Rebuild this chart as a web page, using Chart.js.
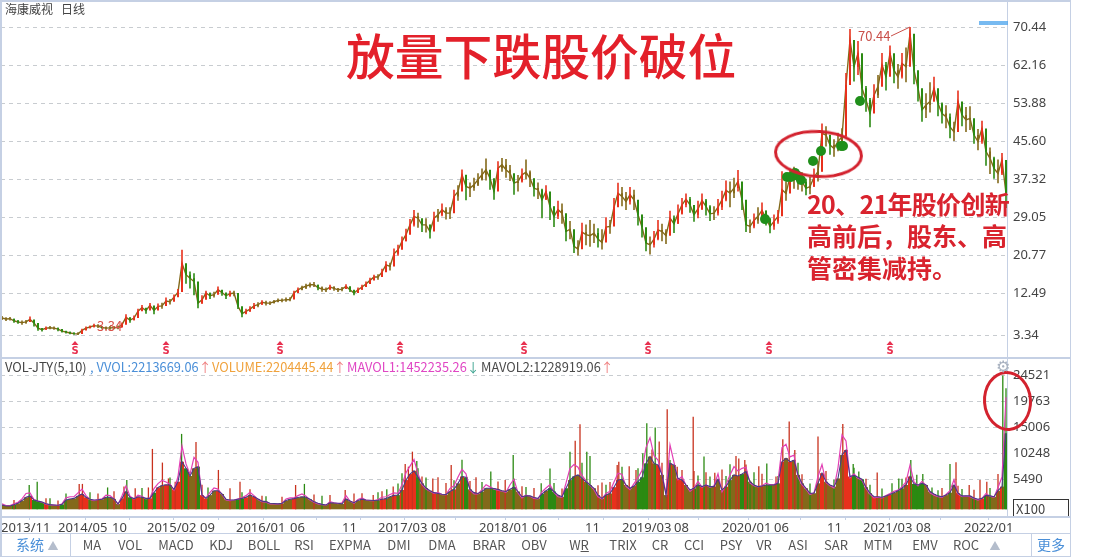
<!DOCTYPE html>
<html>
<head>
<meta charset="utf-8">
<script src="https://cdn.jsdelivr.net/npm/chart.js@4/dist/chart.umd.min.js"></script>
<style>
  html, body { margin: 0; padding: 0; background: #fff; }
  body { width: 1106px; height: 557px; overflow: hidden; position: relative; font-family: "Noto Sans CJK SC", "Noto Sans", sans-serif; color: #444; }
  canvas { position: absolute; left: 0; }
  #priceChart { top: 0; }
  #volumeChart { top: 358px; }
  .txt { position: absolute; white-space: nowrap; line-height: 1; }
  .leg { position: absolute; top: 360px; font-size: 12.8px; line-height: 14px; white-space: nowrap; }
  .rule { position: absolute; background: #c5d0e4; }
  .tool { position: absolute; top: 537px; font-size: 13px; line-height: 16px; transform: translateX(-50%); color: #555; }
  .ring { position: absolute; border: 3px solid #d3222e; border-radius: 50%; box-sizing: border-box; }
</style>
</head>
<body>
<canvas id="priceChart" width="1070" height="357"></canvas>
<canvas id="volumeChart" width="1070" height="175"></canvas>

<div class="rule" style="left:0;top:0;width:1071px;height:2px"></div>
<div class="rule" style="left:0;top:0;width:2px;height:557px"></div>
<div class="rule" style="left:1070px;top:0;width:1px;height:557px"></div>
<div class="rule" style="left:1007px;top:0;width:1px;height:516px"></div>
<div class="rule" style="left:0;top:357px;width:1071px;height:2px"></div>
<div class="rule" style="left:0;top:516px;width:1071px;height:2px"></div>
<div class="rule" style="left:0;top:533px;width:1071px;height:1px"></div>
<div class="rule" style="left:0;top:556px;width:1071px;height:1px"></div>
<div class="rule" style="left:70px;top:533px;width:1px;height:24px"></div>
<div class="rule" style="left:1031px;top:533px;width:1px;height:24px"></div>

<div class="txt" style="left:5px;top:2px;font-size:12px;line-height:14px">海康威视&nbsp;&nbsp;&nbsp;日线</div>
<div class="txt" style="left:346px;top:26px;font-size:48.8px;line-height:56px;color:#e3202a;font-weight:500">放量下跌股价破位</div>
<div class="txt" style="left:807px;top:187px;font-size:25px;line-height:32px;font-weight:700;color:#d9232e"><span style="letter-spacing:-0.7px">20、21年股价创新</span><br>高前后，股东、高<br>管密集减持。</div>
<div class="txt" style="left:858px;top:29px;font-size:13px;line-height:14px;color:#c9504a">70.44</div>
<div class="txt" style="left:97px;top:319px;font-size:13px;line-height:14px;color:#d9534a">3.34</div>
<div style="position:absolute;left:979px;top:21px;width:29px;height:4px;background:#4aa3ec;opacity:.75"></div>

<div class="ring" style="left:774px;top:130px;width:89px;height:48px;transform:rotate(3deg)"></div>
<div class="ring" style="left:983px;top:371px;width:49px;height:60px;transform:rotate(-4deg)"></div>

<div class="leg" style="left:5px;color:#444">VOL-JTY(5,10)</div>
<div class="leg" style="left:90px;color:#4a8fd8">,&nbsp;VVOL:2213669.06<span style="color:#ef7f7f">↑</span></div>
<div class="leg" style="left:212px;color:#f0a23c">VOLUME:2204445.44<span style="color:#ef7f7f">↑</span></div>
<div class="leg" style="left:347px;color:#e046c4">MAVOL1:1452235.26<span style="color:#3aa38f">↓</span></div>
<div class="leg" style="left:481px;color:#4a4a4a">MAVOL2:1228919.06<span style="color:#ef7f7f">↑</span></div>
<div class="txt" style="left:996px;top:359px;font-size:16px;line-height:16px;color:#a9b2c0;font-family:'DejaVu Sans'">⚙</div>
<div style="position:absolute;left:1013px;top:499px;width:56px;height:17px;border:1px solid #333;border-bottom:none;box-sizing:border-box;font-size:13px;line-height:18px;padding-left:2px">X100</div>

<div class="tool" style="left:30px;top:536px;font-size:14px;color:#4a8fd8">系统</div>
<div class="tool" style="left:53px;top:537px;font-size:11px;color:#b4bdcc">▲</div>
<div class="tool" style="left:995px;top:537px;font-size:11px;color:#b4bdcc">▲</div>
<div class="tool" style="left:1051px;top:536px;font-size:14px;color:#4a8fd8">更多</div>
<div id="toolbar"></div>

<script>
// closing price, one column every two weeks or so
const priceClose = [
  7.05,6.85,6.9,6.45,6.2,6.05,6.2,6.75,5.95,4.85,4.5,4.85,4.95,4.85,4.65,4.2,4,3.8,3.65,3.56,4.35,4.85,5.1,5.4,5.3,5,4.85,4.9,4.95,5,5.6,7.2,6.6,7.05,8.55,9.3,8.7,9.8,8.7,9.6,9.7,10.75,10.6,11.6,12.7,19,16.5,15.7,15,10.3,11.05,12.5,11.9,12.15,13.2,12.6,11.9,12.35,12.5,9.6,8,8.5,9,9.7,9.95,
  10.5,10.3,10.3,10.6,10.9,10.9,11.05,11.1,12.5,13.2,13.65,14,14.3,14.3,13.7,13.35,13.2,13.8,13.5,13.2,13.35,13.95,13.2,12.5,13.2,13.8,14.45,15.25,16,16,17.05,18.65,18.3,21.05,21.9,23.75,25.2,27.35,29.2,28.8,27.35,27.35,25.9,28.8,29.55,30.65,29.9,29.9,33.5,34.6,38.25,35.7,35.35,36.1,37.2,38.25,39.35,37.5,34.6,39.7,40.45,39.35,38.6,36.45,36.8,
  38.25,38.8,37.5,35.35,35,32.8,34.6,31.35,29.2,30.65,29.9,25.9,26.4,22.65,22.05,25.75,25.2,25,25.55,24.25,23.5,26.85,27,31.2,34.25,33.55,32.45,33.9,32.8,29.55,26.85,23.4,23,24.25,26.25,25.9,25,28.8,27.6,29.75,31.7,32.95,31.7,29.55,30.8,32.65,31.35,29.75,29.9,31.2,32.8,34.85,34.25,35.35,36.8,32.8,27.35,27,28.3,29.2,30.5,28.8,27,28.1,29.2,
  35,34.2,37.85,37.5,37.1,36.75,35.3,35.7,37.7,38.95,47.3,46.9,44.75,44,45.5,46.55,57.8,67.6,61.8,64.7,57.1,54.55,51.6,55.6,57.45,62.2,59.6,64.7,61,59.6,62.5,61.8,69,61,57.1,52.4,53.45,54.2,57.1,53.8,51.6,50.9,48.7,47.6,54.2,51.3,50.2,50.55,46.9,45.5,48.35,43.3,41.85,39.65,38.55,41.5,34.2
];
const priceHigh = [
  7.5,7.2,7.3,6.9,6.6,6.5,6.6,7.4,6.5,5.3,4.9,5.2,5.3,5.2,5,4.5,4.3,4.1,3.95,3.95,4.7,5.2,5.4,5.8,5.7,5.3,5.2,5.3,5.3,5.4,6.1,7.9,7.1,7.6,9.1,9.9,9.2,10.3,9.3,10.2,10.4,11.5,11.2,12.2,13.4,21.9,18.5,17.2,16.8,12.2,12,13,12.6,12.8,13.9,13.1,12.4,13,13,11,8.8,9.1,9.6,10.3,10.5,
  10.9,10.8,10.7,11,11.3,11.3,11.5,11.6,13,13.7,14.1,14.5,14.8,14.9,14.3,13.9,13.7,14.3,14,13.6,13.8,14.4,13.7,13,13.7,14.3,15,15.8,16.5,16.6,17.8,19.4,19.1,22.2,23,24.8,26.5,28.6,30.6,30,28.6,28.8,27.4,30.2,30.8,32,31.2,31.2,35,36,39.4,37.4,36.6,37.6,38.6,39.6,41.8,39.2,36.2,41.2,41.9,41.7,40.4,38,38.2,
  39.6,41.6,39.2,37.4,36.6,35.2,36,33.4,31.4,32.6,32,28.6,28.2,26,24,27.8,27.4,28.4,27.6,26.6,26.4,29,28.4,33.2,36.5,35.6,34.5,35.6,35,32,29.6,25.6,24.8,26,28.4,27.6,26.4,30.4,29.4,31.8,33.2,34.2,33.4,31.4,32.6,34.2,33,31.6,31.4,33,34.8,37,36.8,37.6,39.3,36.4,30,28.5,29.8,31.2,32.2,30.4,28.7,29.6,30.6,
  39,36.8,39.6,40,39.4,38.8,37.4,37.8,39.6,41.2,49.4,48.8,47,46,47.4,48.4,60.4,70,66.2,67.4,60.8,57.6,55,58,60,64.8,62.8,66.4,63.4,62.4,64.8,66,70.44,64.4,60.4,55.6,56,58.4,59.6,56.6,54,53.4,51.6,49.8,56.6,54,53,53.2,49.4,48.2,50,46.2,44.2,42.2,41.6,43,36.4
];
const priceLow = [
  6.6,6.4,6.5,6,5.8,5.6,5.8,6.2,5.2,4.3,4.1,4.5,4.6,4.5,4.2,3.9,3.7,3.5,3.4,3.34,3.9,4.5,4.8,5,4.9,4.7,4.5,4.5,4.6,4.6,5.1,6.3,6,6.5,7.8,8.6,8,9,7.9,8.9,9.1,10.2,10,11,11.8,13,14.5,13.5,12,9.2,10.1,11.4,11.2,11.5,12.5,11.9,11.2,11.7,11.8,9,7.2,7.9,8.4,9,9.4,
  10,9.8,9.9,10.2,10.5,10.5,10.6,10.7,11.2,12.6,13.1,13.4,13.7,13.8,13.1,12.8,12.7,13.3,13,12.7,12.9,13.4,12.7,12,12.7,13.2,14,14.7,15.4,15.4,16.1,17.6,17.4,19,20.6,22.3,23.8,25.8,27,26.7,25.8,25.7,24.4,27,28,29.2,28.5,28.6,30.5,32.6,35.2,32.7,33.4,34.8,35.8,37,37,35,32.8,36.6,38.9,37.6,36.9,33.9,34.6,
  36.6,37.2,35.6,33.5,33,28.8,32.8,28.4,26.9,28.6,27.6,23.8,24.2,21.2,20.7,23.6,22.9,22.6,23.4,22.4,22,24.5,25.4,28.4,31.8,31.4,30.6,31.8,30.6,27.2,24.6,21.6,20.9,22.4,24,23.8,23.2,26.8,25.6,27.6,29.6,31.2,30,28,28.8,30.6,29.4,28.2,28.4,29.4,30.6,32.5,31.2,33.2,34.6,30.6,25.8,25.6,26.6,27.6,28.6,27.2,25.5,26.3,27.6,
  31.6,32.6,35.6,35.2,35,34.6,33.8,34,35.6,36.8,38.9,44.4,42.6,42.2,43.4,44.6,47.3,58,58.6,60,54.2,52,48.6,52.8,55,59.6,56.6,61.2,58.2,57,59.2,58.4,62.4,58,54.2,49.8,50.6,51.8,54.2,51,49.4,48.4,46.2,45.6,50.4,48.8,47.6,48,45,43.6,45,40.2,38.4,37.4,36.4,38.2,31
];
const priceTicks = [3.34, 12.49, 20.77, 29.05, 37.32, 45.60, 53.88, 62.16, 70.44];

// green sell-off dots, and the columns with the dividend marker
const dotColumns = [190.75, 196.25, 197.25, 198.25, 199, 199.75, 202.75, 204.75, 209.75, 210.25, 214.5];
const dotPrices = [28.6, 37.77, 37.77, 38.64, 38, 37.1, 41.25, 43.43, 44.52, 44.52, 54.33];
const dividendColumns = [18.25, 41, 69.5, 99.5, 130.5, 161.5, 191.75, 222];
const leaderColumns = [222.25, 227];
const leaderPrices = [68.48, 70.44];

// volume panel, in units of x100
const mavol2 = [
  800,600,600,850,1100,1600,2200,2450,1700,1500,1350,1000,850,800,730,900,1700,1900,2000,2450,2800,2200,1850,1700,1750,1850,2200,2200,1900,1000,2000,3250,2200,1950,2300,2200,2000,2000,3050,4000,4350,4500,4450,3650,5050,8700,7500,6100,7500,7800,2600,2000,2600,3400,3400,2800,1850,1700,1700,1850,2000,2200,2600,2300,1900,1500,1400,1100,1050,1000,1100,1600,1850,1950,2150,2300,2200,1850,1400,1100,900,800,1200,1150,1100,
  1000,1900,1500,1200,1600,1850,1700,1650,1600,1650,1850,1950,2300,2550,2600,3550,5350,6450,7050,5850,4750,3900,3400,3050,2900,2750,2700,3250,3650,4750,6000,5850,3650,3050,2900,3250,3850,3850,3800,3650,3400,3250,3650,4050,3250,2300,2450,2450,2150,2000,2800,3400,3850,3250,2600,2300,3850,5350,6000,6300,5650,5050,4450,3850,2600,2000,2600,2900,4050,5350,5500,4450,3850,4250,5050,5850,8400,9650,8400,8100,6300,2600,8400,8100,5650,
  5350,4450,3550,3850,4450,4150,4450,4150,4150,5500,3550,4150,5350,6300,6100,6450,6900,5050,4450,4150,4250,4450,4450,4450,4750,8700,9350,8700,9000,6300,4750,3850,2950,2950,4750,6600,5050,4450,4150,5650,9950,10850,6000,6200,5850,5500,4050,2950,2300,2300,2200,2450,2700,3050,3400,3850,4450,6000,4650,4450,4750,4450,3250,2800,2450,2300,2600,3050,4450,2950,2450,2450,2450,2050,1850,2000,2550,2450,2300,3400,4150,13900
];
const mavol1 = [
  1000,700,700,1000,1300,1900,2900,3000,1800,1500,1300,950,800,750,700,1000,2100,2300,2300,3000,3700,2500,1800,1600,1800,1900,2600,2500,1900,900,2500,4300,2400,1900,2600,2400,1900,2100,3800,4700,5300,5000,4600,3500,6000,11600,8300,6400,9500,8600,2500,2100,3100,3900,3700,2700,1700,1600,1700,1900,2100,2500,3100,2500,1800,1400,1300,1000,1000,950,1100,1900,2100,2100,2500,2800,2400,1700,1300,1000,850,750,1400,1200,1050,
  1200,2500,1500,1100,1800,2100,1700,1600,1600,1800,2200,2300,2700,3000,2900,4500,6700,7900,9100,6500,4500,3700,3300,2900,3100,2700,2700,3800,4300,5900,7300,6500,3500,2800,2800,3600,4500,4100,3700,3500,3300,3100,4500,5500,3000,2100,2600,2400,2000,1900,3200,3900,4500,3100,2300,2200,4800,7500,8200,7700,6200,5200,4400,3600,2300,1900,2900,3300,5000,6600,6400,4200,3600,4700,5800,7100,11300,13100,9800,9000,6400,2900,11800,8600,5400,
  6000,4400,3300,3900,5100,4000,4500,4000,4300,6500,3200,4500,6300,7800,7000,7500,7700,4800,4300,4100,4300,4800,4500,4500,5100,11300,11900,9600,9900,5900,4500,3700,2700,3000,6000,8200,4900,4300,3900,7600,13600,12500,5800,6500,5700,5300,3800,2800,2100,2200,2100,2500,2900,3300,3500,4100,5000,8100,5000,4300,5100,4400,3000,2600,2300,2200,2700,3400,5400,2800,2300,2400,2300,2000,1700,2000,2900,2400,2200,4000,5900,20500
];
const redSpikeColumns = [19.3,20.1,30.5,33.3,36.6,37.6,40.1,41.6,43.3,46.6,48.5,54.1,57,59.5,62,73.4,85.8,90,92.8,97.8,100.8,101.6,102.6,107.7,109,112.3,118.5,125.8,143.3,144.5,150,153.8,154.2,156.8,158.5,162.5,164.3,166.3,168.8,170,172.8,178.2,180,183.5,184.2,185.7,189.2,193.5,195.2,196.8,198.2,204,210.2,218.8,238.5,241.8,244.5,246.2,249,
  3,11,14,24,28,50,65,70,78,82,88,95,105,111,117,124,130,133,140,149,152,165,173,176,186,190,200,206,216,226,235,239,243];
const redSpikeValues = [4650,4650,4150,3850,4000,11050,8550,5650,5050,6900,12300,7200,3850,5050,3650,4450,3550,2950,2600,4150,8300,7800,10550,5650,5850,8100,5850,5350,12550,15550,4900,8100,8700,7900,7200,10950,12400,18300,7800,7200,16950,6700,7300,9750,9300,9000,7900,6000,12800,16050,10850,13300,15600,6750,8600,4450,5350,5050,6450,
  1700,2000,1600,2900,3300,4500,2500,2300,2700,2600,2900,3300,6000,4800,5200,5100,4200,3900,3800,4400,5000,8500,7000,6800,8200,6500,6400,7000,5600,5800,3900,4300,3600];
const greenSpikeColumns = [6.8,8.8,26.4,31.2,44.9,51.5,75.6,96.2,100,103.7,115,122.2,127.8,134.8,137,142,146.2,147,160.2,161.2,163.3,175.5,182,187,191.2,212.8,214.2,222.5,224.2,227.2,228.7,230.2,232.5,237,250.2,251,
  12,16,22,35,42,60,66,80,94,99,104,106,113,120,128,131,138,145,151,155,159,167,174,177,181,188,194,199,202,208,213,217,220,225,234,240,247];
const greenSpikeValues = [4450,5050,4000,5350,13800,4000,4650,3650,6600,8850,9050,6900,9950,4750,7450,10550,10550,9750,10250,15750,14950,9650,8250,5250,8400,8300,6900,4750,5650,9000,6300,6450,4000,8300,24500,22150,
  2000,2900,3100,3900,5800,3100,2400,2500,3100,4700,7500,5800,5300,5000,5600,4100,4800,8500,4500,7800,7500,9000,6200,6000,6100,6800,6100,8500,4700,5400,7600,4500,3800,5600,3500,3700,3900];
const volumeTicks = [5490, 10248, 15006, 19763, 24521];

const monthColumns = [-0.25,14,27.5,36.25,49.5,58.5,72,85,94,107.25,119.25,132.5,145.75,155,168,180,193,206.25,215.25,228.5,240.5];
const monthLabels = ['2013/11','2014/05','10','2015/02','09','2016/01','06','11','2017/03','08','2018/01','06','11','2019/03','08','2020/01','06','11','2021/03','08','2022/01'];

// bottom toolbar
const toolNames = ['MA','VOL','MACD','KDJ','BOLL','RSI','EXPMA','DMI','DMA','BRAR','OBV','W<u>R</u>','TRIX','CR','CCI','PSY','VR','ASI','SAR','MTM','EMV','ROC'];
const toolCentres = [92,130,176,221,264,304,350,399,442,489,534,579,623,660,694,731,764,798,836,878,925,966];
document.getElementById('toolbar').innerHTML = toolNames.map((n, i) =>
  `<div class="tool" style="left:${toolCentres[i]}px">${n}</div>`).join('');

const RED = '#e8301c', GREEN = '#2b8a12', OLIVE = '#83691a';

// strong up days red, strong down days green, the rest comes out brown like the overlapped candles
const tone = (i, limit) => {
  if (i === 0) return OLIVE;
  const change = (priceClose[i] - priceClose[i - 1]) / priceClose[i - 1];
  if (change > limit) return RED;
  if (change < -limit) return GREEN;
  return OLIVE;
};

// bounds 'data' or the nice tick rounding moves the axis ends
const columnScale = { type: 'linear', min: -0.25, max: 251.25, bounds: 'data', offset: false };

// the y axis asks for room for its end labels, which would shrink the plot
const fixYAxis = (s) => { s.width = 63; s.paddingTop = 0; s.paddingBottom = 0; };

const dividendMarks = {
  id: 'dividendMarks',
  afterDatasetsDraw(chart) {
    const { ctx, scales } = chart;
    ctx.save();
    ctx.fillStyle = '#e8304f';
    ctx.textAlign = 'center';
    ctx.font = 'bold 10px "DejaVu Sans"';
    dividendColumns.forEach((c) => {
      const x = scales.x.getPixelForValue(c);
      ctx.beginPath();
      ctx.moveTo(x, 341);
      ctx.lineTo(x + 3.5, 345);
      ctx.lineTo(x - 3.5, 345);
      ctx.fill();
      ctx.fillText('S', x, 354);
    });
    ctx.restore();
  }
};

new Chart(document.getElementById('priceChart'), {
  type: 'bar',
  data: {
    datasets: [
      {
        type: 'line', data: dotColumns.map((c, i) => ({ x: c, y: dotPrices[i] })),
        showLine: false, pointRadius: 5, pointBackgroundColor: '#1f8f1a', pointBorderWidth: 0, order: 0
      },
      {
        type: 'line', data: leaderColumns.map((c, i) => ({ x: c, y: leaderPrices[i] })),
        borderColor: '#c9504a', borderWidth: 1, pointRadius: 0, order: 1
      },
      {
        data: priceClose.map((c, i) => ({ x: i, y: [i ? priceClose[i - 1] : c, c] })),
        backgroundColor: priceClose.map((c, i) => tone(i, 0.035)),
        barThickness: 2, grouped: false, inflateAmount: 0, order: 2
      },
      {
        data: priceHigh.map((h, i) => ({ x: i, y: [priceLow[i], h] })),
        backgroundColor: priceHigh.map((h, i) => tone(i, 0.035)),
        barThickness: 1.6, grouped: false, inflateAmount: 0, order: 3
      },
      // joins the columns, the real candles sit much closer together than these
      {
        type: 'line', data: priceClose.map((c, i) => ({ x: i, y: c })),
        borderColor: OLIVE, borderWidth: 1.4, pointRadius: 0, order: 4
      }
    ]
  },
  plugins: [dividendMarks],
  options: {
    responsive: false,
    animation: false,
    devicePixelRatio: 1,
    layout: { autoPadding: false, padding: { left: 1, right: 0, top: 2, bottom: 2 } },
    plugins: { legend: { display: false }, tooltip: { enabled: false } },
    scales: {
      x: { ...columnScale, display: false },
      y: {
        position: 'right',
        bounds: 'data',
        min: -1.0, max: 75.89,
        afterFit: fixYAxis,
        afterBuildTicks(s) { s.ticks = priceTicks.map((v) => ({ value: v })); },
        grid: { color: '#c8ccd0', drawTicks: false, tickLength: 0 },
        border: { display: false, dash: [4, 4] },
        ticks: {
          padding: 6, color: '#444',
          font: { family: '"Noto Sans"', size: 13 },
          callback: (v) => v.toFixed(2)
        }
      }
    }
  }
});

new Chart(document.getElementById('volumeChart'), {
  type: 'bar',
  data: {
    datasets: [
      {
        type: 'line', data: mavol2.map((v, i) => ({ x: i, y: v })),
        borderColor: '#4a3a86', borderWidth: 1.1, pointRadius: 0, order: 0
      },
      {
        type: 'line', data: mavol1.map((v, i) => ({ x: i, y: v })),
        borderColor: '#e23fb4', borderWidth: 1.2, pointRadius: 0, order: 1
      },
      {
        data: mavol2.map((v, i) => ({ x: i, y: v })),
        backgroundColor: mavol2.map((v, i) => tone(i, 0.06)),
        barThickness: 4, grouped: false, inflateAmount: 0, order: 3
      },
      {
        data: redSpikeColumns.map((c, i) => ({ x: c, y: redSpikeValues[i] })),
        backgroundColor: '#c8321e', barThickness: 1.3, grouped: false, inflateAmount: 0, order: 2
      },
      {
        data: greenSpikeColumns.map((c, i) => ({ x: c, y: greenSpikeValues[i] })),
        backgroundColor: '#2b8a12', barThickness: 1.3, grouped: false, inflateAmount: 0, order: 2
      }
    ]
  },
  options: {
    responsive: false,
    animation: false,
    devicePixelRatio: 1,
    layout: { autoPadding: false, padding: { left: 1, right: 0, top: 2, bottom: 0 } },
    plugins: { legend: { display: false }, tooltip: { enabled: false } },
    scales: {
      x: {
        ...columnScale,
        afterFit(s) { s.height = 17; },
        afterBuildTicks(s) { s.ticks = monthColumns.map((v) => ({ value: v })); },
        grid: { drawOnChartArea: false, color: '#c5d0e4', tickLength: 4 },
        border: { display: false },
        ticks: {
          autoSkip: false, maxRotation: 0, align: 'start', padding: 0, color: '#444',
          font: { family: '"Noto Sans"', size: 13 },
          callback: (v, i) => monthLabels[i]
        }
      },
      y: {
        position: 'right',
        bounds: 'data',
        min: -1226, max: 27322,
        afterFit: fixYAxis,
        afterBuildTicks(s) { s.ticks = volumeTicks.map((v) => ({ value: v })); },
        grid: { color: '#c8ccd0', drawTicks: false, tickLength: 0 },
        border: { display: false, dash: [4, 4] },
        ticks: {
          padding: 6, color: '#444',
          font: { family: '"Noto Sans"', size: 13 },
          callback: (v) => String(v)
        }
      }
    }
  }
});
</script>
</body>
</html>
